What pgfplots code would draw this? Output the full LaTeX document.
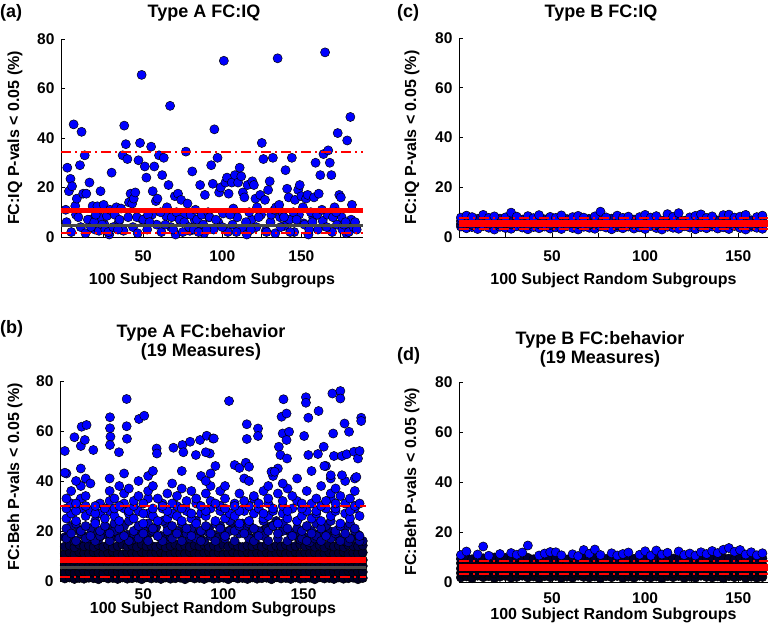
\documentclass[border=0pt]{standalone}
\usepackage{pgfplots}
\pgfplotsset{compat=1.18}
\usepackage{pgfplotstable}
\usepackage{fontspec}
\setmainfont{Liberation Sans}

\newcommand\tf{\fontsize{18bp}{21bp}\selectfont\bfseries}

\pgfplotsset{
  panel/.style={scale only axis, anchor=south west, ymin=0, ymax=80, ytick={0,20,40,60,80},
    xtick={25,50,75,100,125,150,175}, xticklabels={{},50,{},100,{},150,{}},
    axis x line*=bottom, axis y line*=left, axis line style={-, black, line width=0.8bp},
    tick align=inside, major tick length=4bp, tick style={black, line width=0.8bp},
    clip=false, clip marker paths=true,
    /pgf/number format/assume math mode=true,
    ticklabel style={font=\fontsize{15.5bp}{18bp}\selectfont\bfseries},
    yticklabel style={xshift=-3bp},
    label style={font=\fontsize{16bp}{19bp}\selectfont\bfseries},
    ylabel style={at={(axis description cs:-0.152,0.5)}, anchor=center},
    xlabel={100 Subject Random Subgroups},
  },
  scat/.style={only marks, mark=*, mark size=4.6pt, black, mark options={fill=#1, line width=0.5pt}},
  scat/.default=blue,
  meanline/.style={red, line width=5.5bp, no marks},
  nullline/.style={black!72, line width=3bp, no marks},
  ciline/.style={red, line width=2bp, no marks, dash pattern=on 10bp off 4bp on 2bp off 4bp},
}

% Panel (b): dense lower mass
\pgfplotstableread{
x y1 y2 y3 y4 y5 y6 y7
1 1.0 3.4 6.1 8.6 11.0 13.8 17.5
4 1.4 3.8 5.9 8.9 11.4 14.2 19.0
7 0.8 3.2 6.4 8.3 10.7 13.5 16.0
10 1.2 3.6 6.0 9.1 11.6 14.6 20.5
13 0.9 3.9 6.3 8.5 11.1 13.9 18.0
16 1.3 3.3 5.8 8.8 10.9 14.1 17.0
19 1.1 3.7 6.2 8.4 11.5 13.6 19.5
22 0.7 3.5 6.5 9.0 11.2 14.4 16.5
25 1.5 3.1 5.7 8.7 10.8 13.7 18.5
28 1.0 4.0 6.1 8.2 11.3 14.3 21.0
31 1.2 3.4 6.4 8.9 11.7 13.5 17.5
34 0.8 3.8 5.9 8.6 11.0 14.0 19.0
37 1.4 3.2 6.3 9.2 10.6 14.5 22.0
40 0.9 3.6 6.0 8.3 11.4 13.8 18.5
43 1.1 3.9 6.6 8.8 11.1 14.2 16.5
46 1.3 3.3 5.8 8.5 10.9 13.6 18.0
49 0.7 3.7 6.2 9.0 11.6 14.7 20.0
52 1.5 3.5 6.0 8.4 11.2 13.9 17.0
55 1.0 3.1 6.5 8.7 10.8 14.1 19.5
58 1.2 4.0 5.7 8.9 11.3 13.7 21.5
61 0.8 3.4 6.1 8.2 11.5 14.4 18.0
64 1.4 3.8 6.4 9.1 10.7 13.5 16.5
67 0.9 3.2 5.9 8.6 11.0 14.0 17.5
70 1.1 3.6 6.3 8.8 11.4 14.6 19.0
73 1.3 3.9 6.0 8.3 11.1 13.8 18.5
76 0.7 3.3 6.6 9.0 10.9 14.2 20.5
79 1.5 3.7 5.8 8.5 11.6 13.6 17.0
82 1.0 3.5 6.2 8.7 11.2 14.3 19.5
85 1.2 3.1 6.0 9.2 10.8 13.9 18.0
88 0.8 4.0 6.5 8.4 11.3 14.5 16.0
91 1.4 3.4 5.7 8.9 11.7 13.7 21.0
94 0.9 3.8 6.1 8.6 11.0 14.1 18.5
97 1.1 3.2 6.4 8.2 11.4 13.5 17.5
100 1.3 3.6 6.0 9.1 10.6 14.4 19.0
103 0.7 3.9 6.3 8.8 11.1 13.8 20.0
106 1.5 3.3 5.9 8.3 11.5 14.6 22.5
109 1.0 3.7 6.6 8.7 10.9 14.0 21.0
112 1.2 3.5 6.2 9.0 11.2 13.6 23.0
115 0.8 3.1 5.8 8.5 11.6 14.2 19.5
118 1.4 4.0 6.0 8.9 10.8 13.9 17.0
121 0.9 3.4 6.5 8.4 11.3 14.3 18.5
124 1.1 3.8 6.1 8.6 11.0 13.7 20.0
127 1.3 3.2 6.4 9.2 11.4 14.5 21.5
130 0.7 3.6 5.7 8.2 10.7 13.5 22.0
133 1.5 3.9 6.3 8.8 11.1 14.1 24.0
136 1.0 3.3 6.0 8.5 11.5 13.8 22.5
139 1.2 3.7 6.6 9.0 10.9 14.4 20.5
142 0.8 3.5 5.9 8.7 11.2 13.6 19.0
145 1.4 3.1 6.2 8.3 11.6 14.0 18.0
148 0.9 4.0 6.0 8.9 10.8 14.6 16.5
151 1.1 3.4 6.5 8.6 11.3 13.9 17.5
154 1.3 3.8 5.8 9.1 11.0 14.2 15.5
157 0.7 3.2 6.1 8.4 11.4 13.7 17.0
160 1.5 3.6 6.4 8.8 10.6 14.3 19.0
163 1.0 3.9 6.0 8.2 11.1 13.5 21.0
166 1.2 3.3 6.3 8.7 11.5 14.5 20.0
169 0.8 3.7 5.9 9.0 10.9 13.8 18.5
172 1.4 3.5 6.6 8.5 11.2 14.1 17.0
175 0.9 3.1 6.2 8.9 11.6 13.6 16.0
178 1.1 4.0 5.7 8.3 10.8 14.4 15.5
181 1.3 3.4 6.1 8.6 11.3 14.0 17.5
184 0.7 3.8 6.4 9.1 11.0 13.9 18.5
187 1.2 3.6 6.0 8.4 11.4 14.2 16.0
}\tbBlow

% Panel (b): middle band
\pgfplotstableread{
x m1 m2 m3 m4 m5 m6
2 21 25 33 43 17 29
5 19 27 36 nan 22 31
8 23 24 31 40 16 28
11 20 29 38 45 19 33
14 22 26 34 41 17 30
17 18 28 nan 39 21 nan
20 24 23 30 nan 16 27
23 20 27 nan nan 18 31
26 22 25 29 nan 21 nan
29 19 28 36 41 16 32
32 23 26 33 nan 20 29
35 21 24 30 38 17 nan
38 18 29 35 43 22 31
41 24 27 nan 37 16 28
44 20 25 32 nan 19 30
47 22 28 34 40 17 nan
50 19 23 31 nan 21 27
53 23 27 36 42 16 33
56 21 26 38 44 20 29
59 18 24 33 nan 18 nan
62 24 29 30 nan 16 31
65 20 25 nan 35 22 28
68 22 27 31 39 17 nan
71 19 26 34 nan 20 30
74 23 24 37 44 16 29
77 21 28 32 nan 19 nan
80 18 25 nan 36 21 27
83 24 23 33 nan 17 31
86 20 27 30 42 16 nan
89 22 26 35 40 20 28
92 19 29 38 43 18 32
95 23 24 31 46 16 nan
98 21 28 36 nan 22 30
101 18 25 33 38 17 29
104 24 27 nan nan 20 nan
107 20 26 30 nan 16 31
110 22 23 35 nan 19 28
113 19 28 32 41 21 nan
116 23 24 nan 40 17 30
119 21 27 34 nan 16 33
122 18 29 31 nan 20 nan
125 24 25 36 nan 18 27
128 20 26 33 38 16 31
131 22 28 nan 42 22 29
134 19 23 35 45 17 nan
137 23 27 32 39 20 30
140 21 25 37 nan 16 28
143 18 29 34 nan 19 nan
146 24 24 nan 41 21 32
149 20 26 31 nan 17 29
152 22 28 36 nan 16 nan
155 19 25 nan 44 20 31
158 23 27 33 nan 18 28
161 21 24 38 nan 16 30
164 18 29 32 46 22 nan
167 24 26 35 41 17 33
170 20 28 31 37 19 29
173 22 23 34 nan 16 nan
176 19 27 nan 40 21 31
179 23 25 33 nan 17 28
182 21 29 36 41 20 30
185 18 26 31 nan 16 nan
}\tbBmid

% Panel (c)
\pgfplotstableread{
x c1 c2 c3 c4
1 4.2 5.1 6.4 7.8
4 3.5 5.6 7.0 8.6
7 4.0 4.8 6.8 8.0
10 3.2 5.4 7.3 nan
13 4.4 5.9 6.5 8.9
16 3.7 5.2 7.1 7.7
19 3.0 5.7 6.6 8.3
22 4.1 4.9 7.4 nan
25 3.6 5.5 6.9 7.9
28 3.3 5.0 7.2 9.8
31 4.3 5.8 6.7 8.2
34 3.8 5.3 7.0 nan
37 3.1 4.7 6.5 8.4
40 4.0 5.6 7.3 7.6
43 3.5 5.1 6.8 8.8
46 4.2 5.9 7.1 nan
49 3.4 4.8 6.6 8.1
52 3.9 5.4 7.4 7.7
55 3.2 5.7 6.9 8.7
58 4.4 5.0 7.2 nan
61 3.6 5.5 6.5 8.0
64 3.0 5.2 7.0 8.5
67 4.1 5.8 6.7 7.8
70 3.7 4.9 7.3 nan
73 3.3 5.3 6.8 8.3
76 4.3 5.6 7.1 10.2
79 3.8 5.1 6.6 7.9
82 3.1 5.9 7.4 nan
85 4.0 4.7 6.9 8.6
88 3.5 5.4 7.2 7.7
91 4.2 5.7 6.5 8.2
94 3.4 5.0 7.0 nan
97 3.9 5.5 6.7 8.0
100 3.2 5.2 7.3 8.9
103 4.4 5.8 6.8 7.8
106 3.6 4.8 7.1 8.4
109 3.0 5.3 6.6 nan
112 4.1 5.6 7.4 9.2
115 3.7 5.1 6.9 8.1
118 3.3 5.9 7.2 9.6
121 4.3 4.9 6.5 nan
124 3.8 5.4 7.0 7.9
127 3.1 5.7 6.7 8.5
130 4.0 5.0 7.3 9.1
133 3.5 5.5 6.8 7.7
136 4.2 5.2 7.1 8.3
139 3.4 5.8 6.6 nan
142 3.9 4.7 7.4 8.8
145 3.2 5.3 6.9 9.0
148 4.4 5.6 7.2 7.8
151 3.6 5.1 6.5 8.2
154 3.0 5.9 7.0 8.9
157 4.1 4.8 6.7 nan
160 3.7 5.4 7.3 8.0
163 3.3 5.7 6.8 8.6
}\tbC

% Panel (d)
\pgfplotstableread{
x d1 d2 d3 d4 d5 d6
1 1.8 3.6 5.4 7.5 9.3 10.8
4 2.2 3.9 5.8 7.2 9.7 12.2
7 1.5 4.1 5.2 7.8 9.1 nan
10 2.5 3.3 5.9 7.4 9.9 11.0
13 1.9 3.7 5.5 7.0 9.5 14.2
16 2.3 4.0 5.1 7.7 9.2 10.5
19 1.6 3.4 5.7 7.3 9.8 nan
22 2.1 3.8 5.3 7.9 9.4 11.2
25 2.4 3.5 5.6 7.1 9.6 nan
28 1.7 4.2 5.0 7.6 9.0 11.6
31 2.0 3.6 5.8 7.4 9.9 10.9
34 2.5 3.9 5.4 7.8 9.3 11.8
37 1.8 3.3 5.7 7.2 9.7 14.6
40 2.2 4.1 5.2 7.5 9.1 nan
43 1.5 3.7 5.9 7.0 9.5 10.6
46 2.3 3.4 5.5 7.9 9.8 11.4
49 1.9 4.0 5.1 7.3 9.2 12.0
52 2.4 3.8 5.6 7.7 9.6 11.9
55 1.6 3.5 5.8 7.1 9.4 10.7
58 2.1 4.2 5.3 7.6 9.0 nan
61 1.7 3.6 5.7 7.4 9.9 11.1
64 2.5 3.9 5.0 7.8 9.3 10.4
67 2.0 3.3 5.4 7.2 9.7 12.8
70 1.8 4.1 5.9 7.5 9.1 11.3
73 2.2 3.7 5.2 7.0 9.5 13.0
76 1.5 3.4 5.6 7.9 9.8 10.8
79 2.3 4.0 5.8 7.3 9.2 nan
82 1.9 3.8 5.3 7.7 9.6 11.5
85 2.4 3.5 5.5 7.1 9.4 10.6
88 1.6 4.2 5.1 7.6 9.0 11.2
91 2.1 3.6 5.7 7.4 9.9 11.8
94 1.7 3.9 5.4 7.8 9.3 nan
97 2.5 3.3 5.9 7.2 9.7 10.9
100 2.0 4.1 5.2 7.5 9.1 12.3
103 1.8 3.7 5.6 7.0 9.5 10.5
106 2.2 3.4 5.0 7.9 9.8 12.6
109 1.5 4.0 5.8 7.3 9.2 11.0
112 2.3 3.8 5.3 7.7 9.6 11.7
115 1.9 3.5 5.5 7.1 9.4 nan
118 2.4 4.2 5.7 7.6 9.0 12.2
121 1.6 3.6 5.1 7.4 9.9 10.8
124 2.1 3.9 5.4 7.8 9.3 11.4
127 1.7 3.3 5.9 7.2 9.7 10.6
130 2.5 4.1 5.2 7.5 9.1 11.9
133 2.0 3.7 5.6 7.0 9.5 11.2
136 1.8 3.4 5.0 7.9 9.8 12.4
139 2.2 4.0 5.8 7.3 9.2 11.6
142 1.5 3.8 5.3 7.7 9.6 12.9
145 2.3 3.5 5.5 7.1 9.4 13.6
148 1.9 4.2 5.7 7.6 9.0 12.1
151 2.4 3.6 5.1 7.4 9.9 12.8
154 1.6 3.9 5.4 7.8 9.3 11.0
157 2.1 3.3 5.9 7.2 9.7 11.9
160 1.7 4.1 5.2 7.5 9.1 10.7
163 2.0 3.7 5.6 7.0 9.5 11.5
}\tbD

\begin{document}
\begin{tikzpicture}
\useasboundingbox (0,0) rectangle (770bp,629bp);

% ---------------- (a) ----------------
\begin{axis}[panel, at={(61bp,392bp)}, width=302bp, height=198bp, xmin=-2, xmax=189,
  xticklabel style={anchor=base, yshift=-25bp, inner sep=1bp},
  xlabel style={at={(axis description cs:0.5,0)}, anchor=base, yshift=-48bp, inner sep=1bp},
  ylabel={FC:IQ P-vals < 0.05 (\%)}]
\addplot[scat] coordinates {
(1.5,6) (4.5,2) (7.5,9) (10.5,4) (13.5,1.5) (16.5,7) (19.5,3) (22.5,8) (25.5,5) (28.5,1)
(31.5,9.5) (34.5,6) (37.5,2.5) (40.5,8) (43.5,4) (46.5,1.5) (49.5,7) (52.5,3) (55.5,9) (58.5,5)
(61.5,2) (64.5,8.5) (67.5,4) (70.5,1) (73.5,6.5) (76.5,9) (79.5,2.5) (82.5,7) (85.5,4.5) (88.5,1.5)
(91.5,8) (94.5,3) (97.5,6) (100.5,9.5) (103.5,2) (106.5,5) (109.5,8) (112.5,3.5) (115.5,1) (118.5,7)
(121.5,4) (124.5,9) (127.5,2.5) (130.5,6) (133.5,1.5) (136.5,8) (139.5,4.5) (142.5,7) (145.5,2) (148.5,9)
(151.5,5.5) (154.5,1) (157.5,8) (160.5,3) (163.5,6.5) (166.5,9) (169.5,2) (172.5,5) (175.5,8) (178.5,1.5)
(181.5,7) (184.5,4)
};
\addplot[scat] coordinates {
(1,11) (2,28) (3,18.5) (4,23.5) (5,20.5) (6,45.5) (7,12.5) (8,15.5) (9,8) (10,29)
(11,42.5) (12,17.5) (13,33) (14,17.5) (15,7) (16,22) (17,4) (18,12.5) (19,6) (20,9)
(21,12.4) (22,2.5) (23,18.5) (24,5) (25,13) (26,3) (27,8.5) (28,2) (29,11) (30,26)
(31,4) (32,9) (33,12) (34,3) (35,7) (36,11.5) (37,33) (38,45) (39,37.5) (40,31.5)
(41,14) (42,17.5) (43,13.5) (44,15.5) (45,18) (46,8) (47,31) (48,38) (49,65.5) (50,7)
(51,28.5) (52,24) (53,9) (54,6) (55,36.5) (56,18.5) (57,28.5) (58,14.5) (59,15.5) (60,33)
(61,10) (62,25) (63,32) (64,5) (65,12) (66,21) (67,53) (68,8) (69,3) (70,16.5)
(71,10) (72,17.5) (73,7) (74,15) (75,2) (76,6) (77,34.5) (78,13.5) (79,4) (80,9)
(81,26.5) (82,3) (83,11) (84,7) (85,2) (86,21) (87,9) (88,5) (89,17) (90,3)
(91,10) (92,8) (93,29) (94,21.5) (95,43.5) (96,7) (97,32) (98,18) (99,20) (100,4)
(101,71.2) (102,22) (103,24) (104,17.5) (105,9) (106,22) (107,11.5) (108,25) (109,2) (110,22)
(111,28) (112,24.5) (113,18) (114,16) (115,6) (116,21) (117,10) (118,3) (119,22.5) (120,21)
(121,15.5) (122,12) (123,8) (124,17) (125,38) (126,31.5) (127,15) (128,2) (129,19) (130,22.5)
(131,9) (132,32) (133,11) (134,12) (135,72.2) (136,13) (137,4) (138,10) (139,8) (140,27)
(141,19.5) (142,16) (143,2) (144,32) (145,10) (146,15) (147,7) (148,19) (149,21) (150,16.5)
(151,12) (152,5) (153,15.5) (154,17) (155,3) (156,10) (157,6) (158,16) (159,30) (160,9)
(161,17.5) (162,25) (163,11) (164,33.5) (165,74.6) (166,4) (167,35) (168,30) (169,25) (170,8)
(171,12) (172,10) (173,42) (174,17) (175,16) (176,3) (177,5) (178,6) (179,39) (180,2)
(181,48.5) (182,13) (183,4) (184,6) (185,3)
};
\addplot[nullline] coordinates {(-2,4.5) (189,4.5)};
\addplot[meanline] coordinates {(-2,10.7) (189,10.7)};
\addplot[ciline] coordinates {(-2,34.2) (189,34.2)};
\addplot[ciline] coordinates {(-2,1.6) (189,1.6)};
\end{axis}

% ---------------- (b) ----------------
\begin{axis}[panel, at={(60bp,48bp)}, width=306bp, height=200bp, xmin=-2, xmax=189,
  xticklabel style={anchor=base, yshift=-18.5bp, inner sep=0.5bp},
  xlabel style={at={(axis description cs:0.5,0)}, anchor=base, yshift=-33bp, inner sep=0.5bp},
  ylabel style={at={(axis description cs:-0.147,0.52)}},
  ylabel={FC:Beh P-vals < 0.05 (\%)}]
\addplot[scat=blue!15!black] table[x=x, y=y1] {\tbBlow};
\addplot[scat=blue!15!black] table[x=x, y=y2] {\tbBlow};
\addplot[scat=blue!15!black] table[x=x, y=y3] {\tbBlow};
\addplot[scat=blue!15!black] table[x=x, y=y4] {\tbBlow};
\addplot[scat=blue!20!black] table[x=x, y=y5] {\tbBlow};
\addplot[scat=blue!30!black] table[x=x, y=y6] {\tbBlow};
\addplot[scat=blue!45!black] table[x=x, y=y7] {\tbBlow};
\addplot[scat=blue!60!black] table[x=x, y=m5] {\tbBmid};
\addplot[scat=blue!75!black] table[x=x, y=m1] {\tbBmid};
\addplot[scat] table[x=x, y=m2] {\tbBmid};
\addplot[scat] table[x=x, y=m6] {\tbBmid};
\addplot[scat] table[x=x, y=m3] {\tbBmid};
\addplot[scat] table[x=x, y=m4] {\tbBmid};
\addplot[scat] coordinates {
(1,52) (1,43.3) (7,57.5) (11.5,61.7) (14.6,62.4) (11,54) (13.5,56.4) (18.8,52.4)
(29.2,65.5) (29.2,61.1) (29.5,57.7) (29.2,54.4) (39.6,72.8) (39.6,61.9) (39.8,56.9)
(47.3,64.8) (50.6,66.1) (34.8,51.5) (58.3,53) (58.5,51) (68.8,53.3) (74.4,54.4)
(79.2,55.7) (85.4,56.4) (89.6,58.1) (93.5,57) (75,51.5) (82.8,50.4) (91.5,51)
(94,57) (89,51.5) (103.5,72) (107,46.4) (110,45.2) (114,47.3) (116,45.7)
(114.6,62.7) (121.6,61) (121.6,58) (114.6,56.8) (130,43.7) (132,43.7)
(134.6,53.7) (135.6,50.4) (139.7,49) (136.3,65.7) (139.4,67) (137,59) (141,59.7) (139.4,56.4)
(137.5,72.7) (150.4,58) (151.5,73.5) (151.5,71.3) (153,65.3) (153,50.4) (159,50.8)
(159.4,68) (162.6,53.7) (163,46) (167,42.3) (168,75) (173,76) (173,73) (168.5,59)
(169,50) (174,50) (174,42.3) (175.6,63) (178.4,59.7) (177,50.7) (181.5,51.7) (184,49)
(185,52) (183,41.6) (186,65.3) (186,64)
};
\addplot[nullline] coordinates {(-2,5.3) (189,5.3)};
\addplot[meanline] coordinates {(-2,8.4) (189,8.4)};
\addplot[ciline] coordinates {(-2,30) (189,30)};
\addplot[ciline] coordinates {(-2,1.7) (189,1.7)};
\end{axis}

% ---------------- (c) ----------------
\begin{axis}[panel, at={(459bp,392bp)}, width=309bp, height=199bp, xmin=0, xmax=166,
  xticklabel style={anchor=base, yshift=-25bp, inner sep=1bp},
  xlabel style={at={(axis description cs:0.5,0)}, anchor=base, yshift=-48bp, inner sep=1bp},
  ylabel={FC:IQ P-vals < 0.05 (\%)}]
\addplot[scat] table[x=x, y=c1] {\tbC};
\addplot[scat=blue!50!black] table[x=x, y=c2] {\tbC};
\addplot[scat=blue!60!black] table[x=x, y=c3] {\tbC};
\addplot[scat] table[x=x, y=c4] {\tbC};
\addplot[nullline] coordinates {(0,5) (166,5)};
\addplot[meanline, line width=7bp] coordinates {(0,5.3) (166,5.3)};
\addplot[ciline] coordinates {(0,7.6) (166,7.6)};
\addplot[ciline] coordinates {(0,3.2) (166,3.2)};
\end{axis}

% ---------------- (d) ----------------
\begin{axis}[panel, at={(459bp,47bp)}, width=309bp, height=200bp, xmin=0, xmax=166,
  xticklabel style={anchor=base, yshift=-21.5bp, inner sep=0.5bp},
  xlabel style={at={(axis description cs:0.5,0)}, anchor=base, yshift=-37bp, inner sep=0.5bp},
  ylabel={FC:Beh P-vals < 0.05 (\%)}]
\addplot[scat=blue!10!black] table[x=x, y=d1] {\tbD};
\addplot[scat=blue!10!black] table[x=x, y=d2] {\tbD};
\addplot[scat=blue!10!black] table[x=x, y=d3] {\tbD};
\addplot[scat=blue!10!black] table[x=x, y=d4] {\tbD};
\addplot[scat=blue!20!black] table[x=x, y=d5] {\tbD};
\addplot[scat] table[x=x, y=d6] {\tbD};
\addplot[nullline] coordinates {(0,5) (166,5)};
\addplot[meanline, line width=7bp] coordinates {(0,5.7) (166,5.7)};
\addplot[ciline] coordinates {(0,8.5) (166,8.5)};
\addplot[ciline] coordinates {(0,3.4) (166,3.4)};
\end{axis}

% titles and panel letters
\node[anchor=base, font=\tf] at (204bp,611bp) {Type A FC:IQ};
\node[anchor=base, font=\tf] at (601bp,611bp) {Type B FC:IQ};
\node[anchor=base, font=\tf] at (201bp,291bp) {Type A FC:behavior};
\node[anchor=base, font=\tf] at (201bp,272bp) {(19 Measures)};
\node[anchor=base, font=\tf] at (600bp,284bp) {Type B FC:behavior};
\node[anchor=base, font=\tf] at (600bp,265bp) {(19 Measures)};
\node[anchor=base west, inner sep=0pt, font=\tf] at (0bp,611bp) {(a)};
\node[anchor=base west, inner sep=0pt, font=\tf] at (397bp,611bp) {(c)};
\node[anchor=base west, inner sep=0pt, font=\tf] at (0bp,295bp) {(b)};
\node[anchor=base west, inner sep=0pt, font=\tf] at (397bp,268bp) {(d)};
\end{tikzpicture}
\end{document}
